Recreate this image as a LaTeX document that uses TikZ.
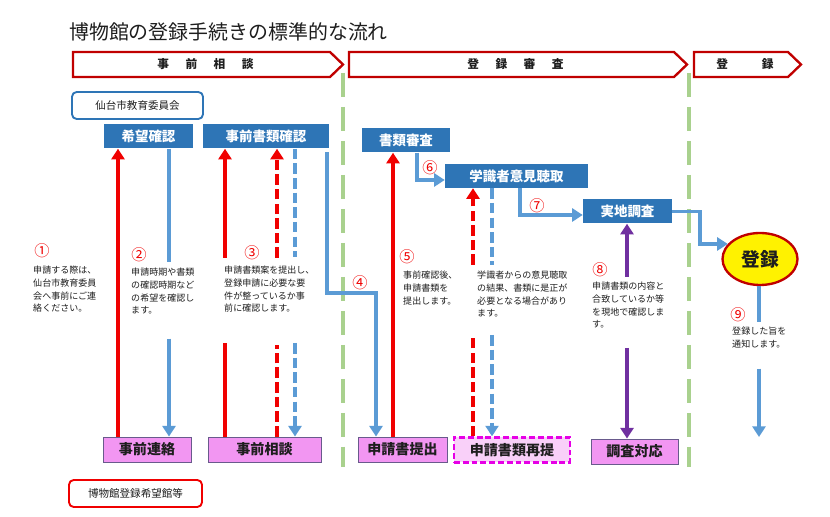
\documentclass[tikz,border=0pt]{standalone}
\usepackage{fontspec}
\setmainfont{Noto Sans CJK JP}
\usetikzlibrary{arrows.meta,shapes.geometric}
\definecolor{steel}{RGB}{46,117,182}
\definecolor{sky}{RGB}{91,155,213}
\definecolor{crimson}{RGB}{192,0,0}
\definecolor{scarlet}{RGB}{240,0,0}
\definecolor{grape}{RGB}{112,48,160}
\definecolor{moss}{RGB}{169,209,142}
\definecolor{orchid}{RGB}{242,150,242}
\definecolor{dusk}{RGB}{105,90,140}
\definecolor{fuchsia}{RGB}{230,0,230}
\definecolor{ink}{RGB}{30,30,30}
\newcommand\sz[2]{\fontsize{#1}{#2}\selectfont}
\newcommand\gap{\hspace{14pt}}
\tikzset{
  >={Triangle[length=9pt,width=11pt]},
  phase/.style={draw=crimson,line width=2pt,fill=white},
  head/.style={fill=steel,text=white,minimum height=0.72cm,inner sep=0pt,font=\sz{11.5}{13}\bfseries},
  task/.style={draw=dusk,thick,fill=orchid,text=ink,minimum height=0.75cm,inner sep=0pt,font=\sz{12}{14}\bfseries},
  retry/.style={task,draw=fuchsia,fill=orchid!45,line width=2pt,dash pattern=on 5pt off 2.5pt},
  org/.style={draw=#1,line width=1.6pt,rounded corners=4pt,fill=white,text=ink,minimum height=0.81cm,font=\sz{9}{11}},
  num/.style={text=scarlet,inner sep=0pt,font=\sz{13}{13}},
  note/.style={anchor=north west,align=left,inner sep=0pt,text=ink,font=\sz{7.7}{10.8}},
  flow/.style={draw=#1,line width=3.2pt},
  dflow/.style={flow=#1,dash pattern=on 9pt off 3.5pt},
  divider/.style={draw=moss,line width=2.6pt,dash pattern=on 20.5pt off 8.5pt},
}
\begin{document}
\begin{tikzpicture}[x=0.03cm,y=-0.03cm]
  \fill[white] (0,0) rectangle (830,517);
  \node[anchor=west,inner sep=0pt,font=\sz{17}{20},text=ink] (title) at (69,32) {博物館の登録手続きの標準的な流れ};
  % phases
  \foreach \l/\r/\t [count=\i] in {73/343/事\gap 前\gap 相\gap 談,349/687/登\gap 録\gap 審\gap 査,694/801/登\hspace{29pt}録}{
    \draw[phase] (\l,52) -- (\r-13,52) -- (\r,64.5) -- (\r-13,77) -- (\l,77) -- cycle;
    \node[font=\sz{10}{12}\bfseries,text=ink] (phase\i) at ({(\l+\r-13)/2+4},64.5) {\t};
  }
  \draw[divider] (343,73) -- (343,467);
  \draw[divider] (689,73) -- (689,467);

  % boxes
  \node[org=steel,minimum width=3.93cm] (sendai) at (137.5,105.5) {仙台市教育委員会};
  \node[org=scarlet,minimum width=3.99cm] (kan) at (135.5,493.5) {博物館登録希望館等};
  \node[head,minimum width=2.67cm] (kibou) at (148.5,136.5) {希望確認};
  \node[head,minimum width=3.78cm] (jizen) at (266,136.5) {事前書類確認};
  \node[head,minimum width=2.64cm] (shorui) at (406,140.5) {書類審査};
  \node[head,minimum width=4.29cm] (gakushiki) at (516.5,176) {学識者意見聴取};
  \node[head,minimum width=2.67cm] (jitchi) at (627.5,211.5) {実地調査};
  \node[task,minimum width=2.64cm] (renraku) at (147,449.5) {事前連絡};
  \node[task,minimum width=3.39cm] (soudan) at (264.5,449.5) {事前相談};
  \node[task,minimum width=2.67cm] (teishutsu) at (402.5,449.5) {申請書提出};
  \node[retry,minimum width=3.48cm] (saitei) at (512,450) {申請書類再提};
  \node[task,minimum width=2.61cm] (taiou) at (634.5,451.5) {調査対応};
  \node[ellipse,draw=crimson,line width=2pt,fill=yellow,minimum width=2.25cm,minimum height=1.56cm,
    inner sep=0pt,font=\sz{16}{18}\bfseries,text=ink] (touroku) at (760,259) {登録};
  \coordinate (tsuchi) at (759,437);

  % connectors
  \draw[flow=scarlet,->] (renraku.north -| 118,0) -- (kibou.south -| 118,0);
  \draw[flow=sky,->,shorten <=3pt] (kibou.south -| 169,0) -- (169,262) (169,335) -- (renraku.north -| 169,0);
  \draw[flow=scarlet,->] (soudan.north -| 225,0) -- (225,343) (225,258) -- (jizen.south -| 225,0);
  \draw[dflow=scarlet,->] (soudan.north -| 277,0) -- (277,345) (277,258) -- (jizen.south -| 277,0);
  \draw[dflow=sky,->] (jizen.south -| 295,0) -- (295,257) (295,343) -- (soudan.north -| 295,0);
  \draw[flow=sky,->,shorten <=3pt] (jizen.south -| 327,0) |- (376,293) -- (teishutsu.north -| 376,0);
  \draw[flow=scarlet,->] (teishutsu.north -| 393,0) -- (shorui.south -| 393,0);
  \draw[flow=sky,->] (shorui.south -| 417,0) |- (gakushiki.west |- 0,180);
  \draw[dflow=scarlet,->] (saitei.north -| 473,0) -- (473,335) (473,265) -- (gakushiki.south -| 473,0);
  \draw[dflow=sky,->] (gakushiki.south -| 492,0) -- (492,265) (492,335) -- (saitei.north -| 492,0);
  \draw[flow=sky,->] (gakushiki.south -| 520,0) |- (jitchi.west |- 0,215);
  \draw[flow=grape,->] (627,277) -- (jitchi.south -| 627,0);
  \draw[flow=grape,->] (627,348) -- (taiou.north -| 627,0);
  \draw[flow=sky,->] (jitchi.east) -| (touroku.155 -| 700,0) -- (touroku.155);
  \draw[flow=sky,->,shorten <=3pt] (touroku.south -| 759,0) -- (759,322) (759,365) -- (tsuchi);

  % steps
  \foreach \n/\x/\y in {①/42/251,②/139/255,③/252/253,④/360/283,⑤/407/257,⑥/430/168,⑦/537/206,⑧/600/270,⑨/738/315}
    \node[num] (n\x) at (\x,\y) {\n};
  \node[note] (t1) at (33,266) {申請する際は、\\仙台市教育委員\\会へ事前にご連\\絡ください。};
  \node[note] (t2) at (131,268) {申請時期や書類\\の確認時期など\\の希望を確認し\\ます。};
  \node[note] (t3) at (224,266) {申請書類案を提出し、\\登録申請に必要な要\\件が整っているか事\\前に確認します。};
  \node[note] (t5) at (403,271) {事前確認後、\\申請書類を\\提出します。};
  \node[note] (t6) at (477,271) {学識者からの意見聴取\\の結果、書類に是正が\\必要となる場合があり\\ます。};
  \node[note] (t8) at (592,282) {申請書類の内容と\\合致しているか等\\を現地で確認しま\\す。};
  \node[note] (t9) at (732,327) {登録した旨を\\通知します。};
\end{tikzpicture}
\end{document}
